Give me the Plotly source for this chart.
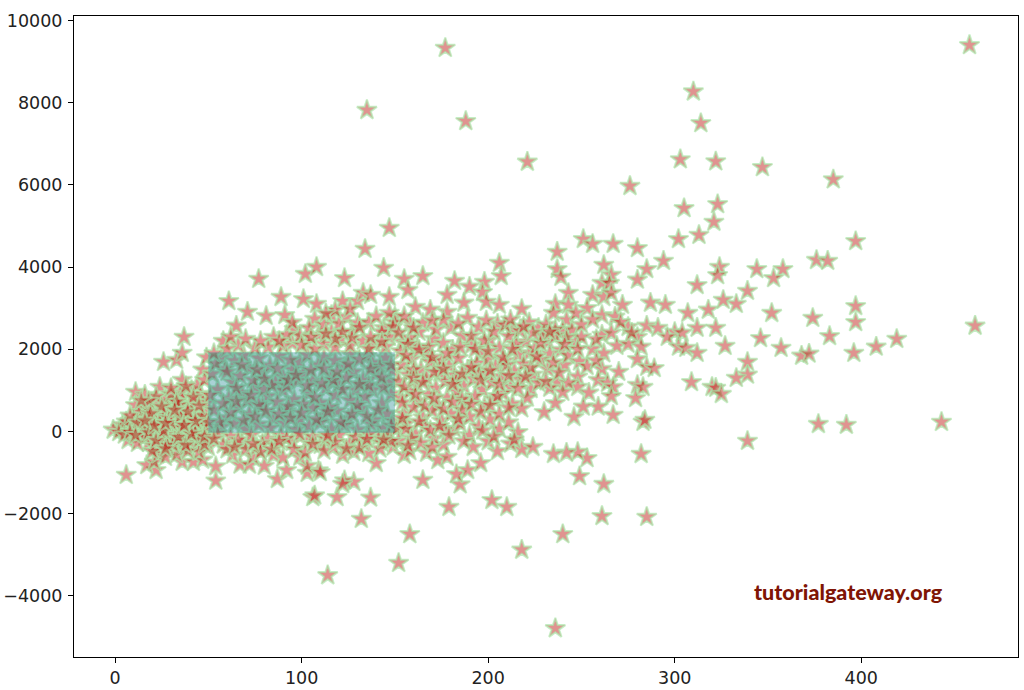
import plotly.graph_objects as go

# (x, y) values, grouped by part of the cloud
top_points = [
    (177,9330),(458,9400),(135,7820),(188,7550),(310,8270),(314,7500),(221,6560),(303,6620),
    (322,6570),(276,5970),(347,6430),(385,6130),(305,5430),(323,5530),(321,5100),(147,4950),
    (134,4440),(397,4630),(376,4170),(382,4150),(344,3950),(358,3950),(324,4000),(323,3800),
]
right_points = [
    (144,3980),(155,3710),(165,3780),(157,3440),(147,3270),(182,3660),(190,3520),(198,3640),
    (197,3390),(178,3320),(206,4100),(207,3780),(199,3150),(206,3080),(187,3130),(237,4370),
    (251,4680),(256,4560),(267,4560),(280,4460),(302,4680),(313,4780),(294,4150),(262,4050),
    (237,3950),(239,3760),(266,3810),(285,3950),(280,3690),(261,3610),(265,3610),(312,3560),
    (243,3370),(256,3320),(262,3270),(266,3370),(236,3100),(243,3080),(253,3000),(272,3080),
    (287,3130),(295,3080),(307,2880),(318,2960),(218,2980),(169,2960),(161,3030),(178,2910),
    (235,2880),(261,2830),(268,2790),(242,2710),(247,2880),(205,2620),(189,2760),(275,2540),
    (285,2570),(291,2520),(300,2420),(304,2400),(312,2520),(322,2520),(227,2520),(213,2490),
    (195,2540),(180,2520),(158,2640),(150,2790),(144,2520),(163,2420),(240,2470),(245,2470),
    (261,2350),(266,2400),(280,2300),(296,2300),(232,2180),(247,2180),(269,2080),(275,2130),
    (282,2060),(302,2060),(306,2030),(312,1910),(239,1980),(280,1760),(285,1570),(289,1540),
    (270,1450),(261,1520),(248,1330),(232,1520),(241,1620),(233,1890),(222,1910),(237,1200),
    (259,1250),(264,1180),(267,1080),(248,1080),(243,1180),(280,1130),(283,1080),(309,1200),
    (320,1080),(254,940),(240,960),(223,1030),(233,1060),(266,860),(279,810),(259,600),
    (251,600),(267,400),(283,230),(246,350),(236,690),(230,470),(333,3100),(339,3420),
    (352,2880),(353,3730),(346,2270),(357,2030),(374,2760),(397,3050),(397,2660),(383,2320),
    (368,1840),(372,1890),(396,1910),(408,2060),(419,2250),(461,2570),(339,1690),(339,1380),
    (333,1300),(322,1060),(325,910),(327,2080),(326,3200),(339,-230),(377,180),(392,160),
    (443,230),(282,-550),(284,280),
]
bottom_points = [
    (285,-2080),(261,-2060),(262,-1280),(249,-1090),(253,-650),(248,-500),(242,-520),(235,-550),
    (240,-2500),(236,-4790),(218,-2880),(210,-1840),(202,-1670),(179,-1840),(185,-1290),(183,-1040),
    (189,-940),(196,-770),(158,-2500),(152,-3200),(114,-3500),(132,-2130),(137,-1610),(119,-1600),
    (128,-1230),(123,-1190),(106,-1600),(107,-1560),(109,-950),(103,-1010),(87,-1160),(54,-1200),
    (54,-850),(6,-1060),(22,-940),(17,-820),(21,-740),(36,-740),(42,-740),(47,-690),
    (67,-810),(72,-810),(80,-840),(92,-940),(103,-840),(110,-990),(122,-1280),(140,-770),
    (136,-530),(149,-370),(155,-570),(74,-620),(63,-570),(85,-570),(90,-640),(99,-620),
    (122,-570),(128,-500),(165,-1180),(173,-700),(158,-480),(167,-520),(178,-620),(192,-380),
    (205,-480),(218,-430),(224,-380),(212,-300),(182,60),(190,-90),(200,-240),(176,-320),
]
left_blob = [
    (37,2300),(26,1690),(33,1740),(36,1910),(36,1250),(24,1080),(11,960),(16,890),(21,690),(11,640),
    (36,840),(41,1010),(44,770),(28,550),(34,430),(23,350),(17,180),(7,110),(12,85),(3,85),
    (-1,40),(7,-210),(18,-280),(23,-130),(28,-110),(39,180),(46,280),(39,-110),(29,-450),(36,-380),
    (43,-350),(50,-380),(4,160),(9,30),(14,-60),(19,60),(25,130),(31,40),(35,-40),(42,60),
    (47,130),(15,330),(20,480),(26,410),(30,620),(37,540),(42,410),(48,500),(13,470),(17,560),
    (24,240),(29,320),(33,190),(38,310),(44,170),(49,30),(10,280),(6,240),(2,-20),(16,-130),
    (21,-350),(26,-260),(32,-210),(37,-250),(41,-150),(46,-90),(49,-230),(23,-560),(27,-620),(20,-480),
    (32,710),(27,790),(40,660),(46,910),(49,700),(35,950),(22,850),(18,740),(30,900),(44,1130),
    (47,1500),(49,1800),(48,1250),(45,-500),(33,-560),(39,-470),(14,750),(8,380),(5,-80),(12,-280),
    (31,-320),(25,-30),(36,90),(41,290),(20,210),(15,60),(28,-340),(43,-30),(47,380),(34,640),
]
box_points = [
    (57,1790),(64,1720),(72,1540),(63,1200),(79,1420),(86,1200),(99,1690),(101,1420),(113,1060),(123,1570),
    (129,1010),(138,1670),(145,1790),(138,1010),(55,1020),(61,800),(68,930),(75,1080),(82,860),(90,1000),
    (96,780),(104,930),(110,700),(118,880),(126,760),(134,840),(143,690),(148,910),(53,520),(60,330),
    (66,580),(72,420),(79,620),(85,310),(92,500),(99,300),(106,570),(112,380),(119,500),(125,310),
    (132,560),(139,280),(146,430),(57,110),(64,190),(70,60),(77,170),(83,80),(91,200),(97,40),
    (104,130),(110,220),(116,60),(123,150),(130,40),(137,190),(144,70),(149,250),(52,1400),(59,1520),
    (67,1350),(74,1250),(83,1600),(90,1340),(95,1500),(106,1230),(109,1620),(116,1350),(120,1150),(128,1450),
    (133,1260),(140,1400),(147,1200),(54,1650),(69,1850),(77,1780),(88,1830),(94,1740),(103,1860),(112,1800),
    (118,1720),(126,1880),(135,1830),(142,1580),(149,1480),(65,1050),(71,760),(77,650),(87,720),(93,610),
    (101,660),(107,830),(115,590),(122,1020),(130,640),(136,1120),(144,1080),(56,230),(62,460),(69,270),
    (75,350),(81,500),(88,420),(94,330),(100,450),(108,290),(114,480),(121,230),(127,420),(135,370),
    (141,520),(148,140),(51,880),(58,680),(65,730),(73,880),(80,1020),(84,1120),(92,1110),(98,1230),
    (103,1110),(111,1170),(117,1250),(124,1300),(131,1150),(137,1520),(143,1310),(148,1620),(60,1450),(68,1620),
    (76,1500),(80,1280),(87,1530),(93,1250),(97,1370),(105,1490),(112,1520),(119,1450),(125,1640),(131,1750),
    (55,-50),(62,-120),(68,-280),(76,-380),(82,-180),(89,-90),(95,-260),(103,-250),(110,-330),(117,-380),
    (126,-280),(133,-280),(141,-140),(147,-60),(58,-320),(66,-210),(73,-90),(79,-290),(86,-340),(92,-170),
    (99,-60),(106,-130),(113,-180),(120,-90),(129,-140),(136,-70),(143,-280),
]
upper_blob = [
    (61,3170),(71,2910),(81,2810),(91,2830),(89,3270),(77,3710),(65,2570),(58,2200),(66,2100),(75,2030),
    (85,2300),(96,2490),(95,2150),(103,2180),(107,2740),(101,3220),(108,3100),(102,3830),(108,4000),(123,3730),
    (122,3170),(130,3170),(133,3370),(137,3320),(116,2830),(124,2790),(130,2640),(116,2420),(127,2420),(109,2350),
    (143,2420),(154,2180),(133,2200),(112,2600),(120,2620),(136,2650),(140,2800),(147,2880),(150,2650),(118,2950),
    (126,2980),(104,2520),(99,2330),(90,2080),(82,2050),(112,2130),(121,2260),(139,2130),(147,2300),(126,2090),
    (107,2010),(118,2050),(136,2010),(145,2060),(149,2550),(113,2870),(127,2280),(92,2350),(53,1900),(60,2010),
]
middle_blob = [
    (153,1950),(158,2280),(162,2060),(167,1880),(171,2250),(176,2150),(181,1990),(186,2330),(191,2100),(196,1900),
    (201,2240),(206,2040),(211,2320),(216,1870),(220,2180),(225,2020),(229,2340),(154,1620),(159,1760),(164,1500),
    (169,1690),(174,1430),(179,1600),(184,1780),(189,1500),(194,1660),(199,1420),(204,1590),(209,1720),(214,1470),
    (219,1640),(224,1380),(228,1740),(152,1230),(157,1380),(162,1120),(167,1300),(172,1050),(177,1220),(182,1370),
    (187,1100),(192,1280),(197,1020),(202,1190),(207,1340),(212,1080),(217,1260),(221,820),(227,1180),(153,830),
    (158,980),(163,740),(168,900),(173,650),(178,820),(183,970),(188,700),(193,860),(198,610),(203,780),
    (208,930),(213,670),(218,560),(155,430),(160,590),(165,340),(170,510),(175,260),(180,430),(185,190),
    (190,360),(195,120),(201,290),(206,60),(211,220),(216,-20),(151,70),(156,190),(161,-60),(166,130),
    (171,-170),(177,40),(187,-240),(197,20),(203,-130),(214,-200),(155,1080),(160,1500),(168,2050),(175,1730),
    (183,1250),(186,780),(195,1420),(200,1760),(205,860),(210,1620),(215,2120),(223,1550),(231,1220),(235,1680),
    (226,1820),(238,1430),(243,1850),(249,1700),(253,1590),(256,2010),(262,1900),(258,2240),(250,2300),(242,2280),
    (236,2330),(152,2400),(157,2120),(165,2640),(172,2480),(176,2720),(184,2620),(191,2320),(198,2210),(203,2430),
    (209,2590),(217,2450),(222,2650),(231,2600),(236,2480),(250,2600),(256,2720),(271,2660),(277,2400),(258,1720),
]
dense_extra = [
    (156,1850),(163,1980),(170,1800),(178,1900),(185,2050),(193,2000),(200,1950),(208,1800),(213,2000),(160,1300),
    (165,1200),(171,1450),(176,1520),(181,1150),(186,1400),(191,1560),(196,1250),(201,1480),(206,1150),(211,1360),
    (216,1050),(220,1330),(154,700),(161,900),(166,620),(171,800),(176,550),(181,720),(186,520),(191,660),
    (196,480),(201,640),(206,420),(211,580),(156,60),(163,240),(169,30),(174,130),(179,-100),(184,310),
    (154,320),(159,-170),(164,-280),(170,-390),(152,-230),(157,-340),(228,2150),(233,2420),(241,2120),(248,2000),
    (224,2400),(219,2550),(212,2720),(199,2700),(170,2700),(160,2520),(155,2800),(143,2180),(137,2290),(131,2530),
    (122,2420),(118,2250),(113,2380),(105,2290),(100,2100),(88,2200),(78,2200),(70,2250),(62,2300),(95,2650),
    (30,1050),(38,1100),(42,830),(33,720),(25,600),(19,430),(12,210),(8,-20),(11,-90),(18,-30),
    (22,-220),(27,-420),(34,-140),(38,-330),(45,-210),(48,-320),(30,210),(35,370),(39,480),(45,620),
    (41,-60),(26,20),(21,140),(16,260),(32,520),(27,200),(50,220),(43,250),(37,150),(48,-130),
    (53,-180),(60,-440),(70,-430),(78,-500),(84,-430),(96,-430),(102,-520),(112,-470),(118,-260),(131,-400),
    (142,-420),(148,-240),(64,-380),(74,-300),(88,-240),(106,-310),(114,-100),(124,-420),(135,-190),(144,-200),
]

all_points = top_points + right_points + bottom_points + left_blob + box_points + upper_blob + middle_blob + dense_extra
x_values = [p[0] for p in all_points]
y_values = [p[1] for p in all_points]

x_ticks = [0, 100, 200, 300, 400]
y_ticks = [-4000, -2000, 0, 2000, 4000, 6000, 8000, 10000]
y_tick_labels = ['\u22124000', '\u22122000', '0', '2000', '4000', '6000', '8000', '10000']

tick_font = dict(family='"DejaVu Sans", Verdana, sans-serif', size=17.5, color='#222222')

fig = go.Figure()

fig.add_trace(go.Scatter(
    x=x_values,
    y=y_values,
    mode='markers',
    marker=dict(
        symbol='star',
        size=15,
        color='rgba(190,25,20,0.47)',
        line=dict(color='rgba(170,230,170,0.68)', width=2)
    ),
    showlegend=False
))

fig.update_layout(
    width=1024,
    height=690,
    margin=dict(l=74, r=6, t=16, b=33),
    paper_bgcolor='white',
    plot_bgcolor='white',
    font=tick_font,
    showlegend=False,
    xaxis=dict(
        range=[-22, 484], tickvals=x_ticks, showgrid=False, zeroline=False, automargin=False,
        ticks='outside', ticklen=5, tickwidth=1, tickcolor='black', tickfont=tick_font,
        showline=True, linecolor='black', linewidth=1, mirror=True
    ),
    yaxis=dict(
        range=[-5487, 10109], tickvals=y_ticks, ticktext=y_tick_labels, showgrid=False, zeroline=False, automargin=False,
        ticks='outside', ticklen=5, tickwidth=1, tickcolor='black', tickfont=tick_font, ticklabelstandoff=2,
        showline=True, linecolor='black', linewidth=1, mirror=True
    ),
    shapes=[dict(
        type='rect', xref='x', yref='y', x0=50, x1=150, y0=-30, y1=1930,
        fillcolor='rgba(40,140,150,0.4)', line=dict(width=0), layer='above'
    )],
    annotations=[dict(
        xref='paper', yref='paper', x=(848 - 74) / 944, y=(657 - 592) / 641,
        xanchor='center', yanchor='middle', showarrow=False,
        text='tutorialgateway.org',
        font=dict(family='Lato', size=21.5, weight=900, color='#7f1505')
    )]
)

# drop the page's default body margin so the 1024x690 figure fills the window
fig.write_html("out.html", config=dict(displayModeBar=False), post_script="document.body.style.margin = '0';")
